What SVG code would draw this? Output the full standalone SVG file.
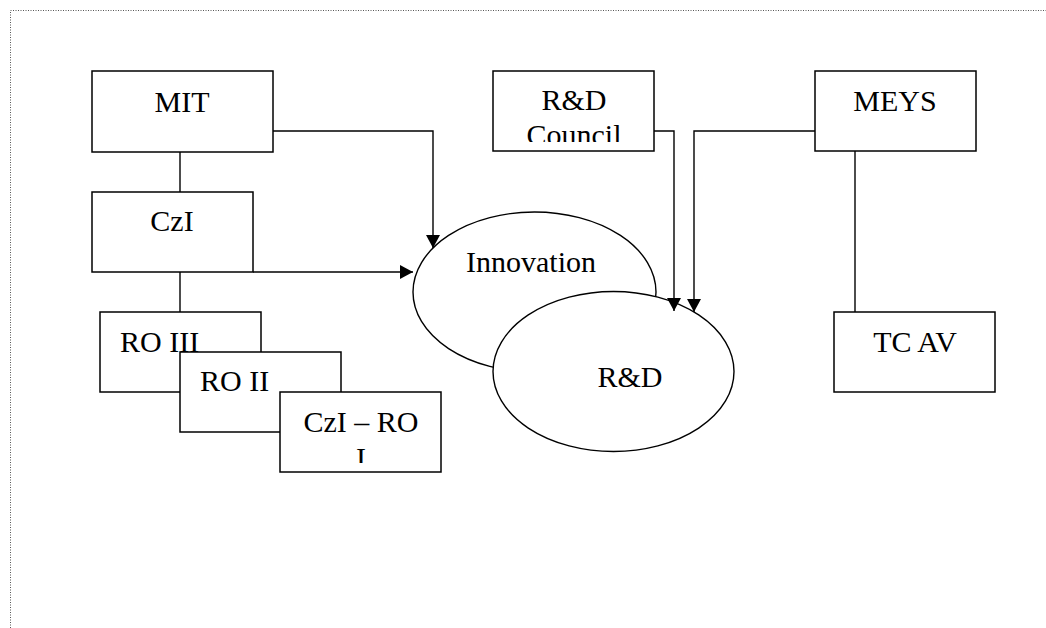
<svg xmlns="http://www.w3.org/2000/svg" width="1046" height="628" viewBox="0 0 1046 628">
<style>
.box{fill:#fff;stroke:#000;stroke-width:1.5}
.ell{fill:#fff;stroke:#000;stroke-width:1.4}
.ln{fill:none;stroke:#000;stroke-width:1.4}
text{font-family:"Liberation Serif","Times New Roman",serif;font-size:30px;fill:#000}
.c{text-anchor:middle}
</style>
<defs>
<marker id="ah" markerUnits="userSpaceOnUse" markerWidth="14" markerHeight="14" viewBox="0 0 14 14" refX="13" refY="7" orient="auto">
<path d="M0,0 L13,7 L0,14 Z" fill="#000"/>
</marker>
<clipPath id="clipCouncil"><rect x="494" y="72" width="160" height="70"/></clipPath>
<clipPath id="clipRO1"><rect x="281" y="393" width="160" height="70"/></clipPath>
</defs>
<rect x="10.5" y="10.5" width="1100" height="700" fill="none" stroke="#555" stroke-width="1" stroke-dasharray="1,1.5"/>

<g id="connectors">
<line class="ln" x1="180" y1="152" x2="180" y2="192"/>
<line class="ln" x1="180" y1="272" x2="180" y2="312"/>
<line class="ln" x1="855" y1="151" x2="855" y2="312"/>
<polyline class="ln" points="273,131 433,131 433,248" marker-end="url(#ah)"/>
<polyline class="ln" points="253,272 413,272" marker-end="url(#ah)"/>
</g>

<g id="innovation">
<ellipse class="ell" cx="534.5" cy="292" rx="121.5" ry="80"/>
<text x="531" y="272" class="c">Innovation</text>
</g>
<g id="rd">
<ellipse class="ell" cx="613.5" cy="371.5" rx="120.5" ry="80"/>
<text x="630" y="387" class="c">R&amp;D</text>
</g>

<g id="connectors2">
<polyline class="ln" points="654,131 674,131 674,311" marker-end="url(#ah)"/>
<polyline class="ln" points="815,131 694,131 694,312" marker-end="url(#ah)"/>
</g>

<g id="mit">
<rect class="box" x="92" y="71" width="181" height="81"/>
<text x="182" y="112" class="c">MIT</text>
</g>
<g id="czi">
<rect class="box" x="92" y="192" width="161" height="80"/>
<text x="172" y="231" class="c">CzI</text>
</g>
<g id="ro3">
<rect class="box" x="100" y="312" width="161" height="80"/>
<text x="120" y="352">RO III</text>
</g>
<g id="ro2">
<rect class="box" x="180" y="352" width="161" height="80"/>
<text x="200" y="391">RO II</text>
</g>
<g id="czi-ro1">
<rect class="box" x="280" y="392" width="161" height="80"/>
<g clip-path="url(#clipRO1)">
<text x="361" y="432" class="c">CzI – RO</text>
<text x="361" y="468" class="c">I</text>
</g>
</g>
<g id="rdcouncil">
<rect class="box" x="493" y="71" width="161" height="80"/>
<g clip-path="url(#clipCouncil)">
<text x="574" y="110" class="c">R&amp;D</text>
<text x="574" y="145" class="c">Council</text>
</g>
</g>
<g id="meys">
<rect class="box" x="815" y="71" width="161" height="80"/>
<text x="895" y="111" class="c">MEYS</text>
</g>
<g id="tcav">
<rect class="box" x="834" y="312" width="161" height="80"/>
<text x="915" y="352" class="c">TC AV</text>
</g>
</svg>
